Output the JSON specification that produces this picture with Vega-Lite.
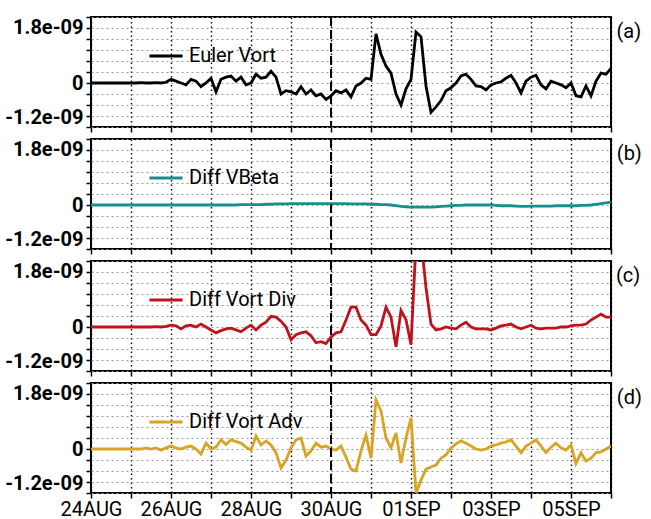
{
"$schema": "https://vega.github.io/schema/vega-lite/v6.json",
"padding": {"left": 0, "top": 15, "right": 0, "bottom": 0},
"background": "white",
"datasets": {
"ts": [
{"t":"2017-08-24T00:00","a":0,"b":0,"c":0,"d":0},
{"t":"2017-08-24T03:00","a":0,"b":0,"c":0,"d":0},
{"t":"2017-08-24T06:00","a":0,"b":0,"c":0,"d":0},
{"t":"2017-08-24T09:00","a":0,"b":0,"c":0,"d":0},
{"t":"2017-08-24T12:00","a":0,"b":0,"c":0,"d":0},
{"t":"2017-08-24T15:00","a":0,"b":0,"c":0,"d":0},
{"t":"2017-08-24T18:00","a":0,"b":0,"c":0,"d":0},
{"t":"2017-08-24T21:00","a":0,"b":0,"c":0,"d":0},
{"t":"2017-08-25T00:00","a":0,"b":0,"c":0,"d":0},
{"t":"2017-08-25T03:00","a":0,"b":0,"c":0,"d":0},
{"t":"2017-08-25T06:00","a":0.01e-9,"b":0,"c":0,"d":0},
{"t":"2017-08-25T09:00","a":0,"b":0,"c":0,"d":0.03e-9},
{"t":"2017-08-25T12:00","a":0,"b":0,"c":0,"d":0},
{"t":"2017-08-25T15:00","a":0.01e-9,"b":0,"c":0.01e-9,"d":0.03e-9},
{"t":"2017-08-25T18:00","a":0,"b":0,"c":0,"d":-0.03e-9},
{"t":"2017-08-25T21:00","a":0.02e-9,"b":0,"c":0.02e-9,"d":0.03e-9},
{"t":"2017-08-26T00:00","a":0.1e-9,"b":0,"c":0.05e-9,"d":0.08e-9},
{"t":"2017-08-26T03:00","a":0.05e-9,"b":0,"c":0.03e-9,"d":0.03e-9},
{"t":"2017-08-26T06:00","a":0,"b":0,"c":-0.05e-9,"d":0},
{"t":"2017-08-26T09:00","a":-0.05e-9,"b":0,"c":0.03e-9,"d":0.05e-9},
{"t":"2017-08-26T12:00","a":0.1e-9,"b":0,"c":0.05e-9,"d":0.08e-9},
{"t":"2017-08-26T15:00","a":0.05e-9,"b":0,"c":0,"d":0},
{"t":"2017-08-26T18:00","a":-0.1e-9,"b":0,"c":0.08e-9,"d":-0.14e-9},
{"t":"2017-08-26T21:00","a":0,"b":0,"c":0,"d":0.16e-9},
{"t":"2017-08-27T00:00","a":0.13e-9,"b":0,"c":-0.08e-9,"d":0},
{"t":"2017-08-27T03:00","a":-0.24e-9,"b":0,"c":-0.16e-9,"d":0.05e-9},
{"t":"2017-08-27T06:00","a":0.1e-9,"b":0,"c":-0.1e-9,"d":0.25e-9},
{"t":"2017-08-27T09:00","a":0.16e-9,"b":0,"c":-0.05e-9,"d":0.12e-9},
{"t":"2017-08-27T12:00","a":0.19e-9,"b":0,"c":-0.03e-9,"d":0.25e-9},
{"t":"2017-08-27T15:00","a":0.05e-9,"b":0,"c":-0.08e-9,"d":0.2e-9},
{"t":"2017-08-27T18:00","a":0.16e-9,"b":0.01e-9,"c":-0.13e-9,"d":0.16e-9},
{"t":"2017-08-27T21:00","a":-0.05e-9,"b":0.01e-9,"c":-0.03e-9,"d":0.05e-9},
{"t":"2017-08-28T00:00","a":0,"b":0.01e-9,"c":0.05e-9,"d":-0.03e-9},
{"t":"2017-08-28T03:00","a":0.24e-9,"b":0.01e-9,"c":-0.08e-9,"d":0.35e-9},
{"t":"2017-08-28T06:00","a":0.13e-9,"b":0.01e-9,"c":0.05e-9,"d":0.11e-9},
{"t":"2017-08-28T09:00","a":0.16e-9,"b":0.02e-9,"c":0.13e-9,"d":0.22e-9},
{"t":"2017-08-28T12:00","a":0.32e-9,"b":0.02e-9,"c":0.29e-9,"d":0.11e-9},
{"t":"2017-08-28T15:00","a":0.16e-9,"b":0.03e-9,"c":0.27e-9,"d":-0.1e-9},
{"t":"2017-08-28T18:00","a":-0.3e-9,"b":0.03e-9,"c":0.16e-9,"d":-0.52e-9},
{"t":"2017-08-28T21:00","a":-0.21e-9,"b":0.03e-9,"c":0,"d":-0.3e-9},
{"t":"2017-08-29T00:00","a":-0.24e-9,"b":0.04e-9,"c":-0.35e-9,"d":0.03e-9},
{"t":"2017-08-29T03:00","a":-0.3e-9,"b":0.04e-9,"c":-0.21e-9,"d":0.25e-9},
{"t":"2017-08-29T06:00","a":-0.1e-9,"b":0.04e-9,"c":-0.16e-9,"d":0.3e-9},
{"t":"2017-08-29T09:00","a":-0.3e-9,"b":0.04e-9,"c":-0.13e-9,"d":-0.19e-9},
{"t":"2017-08-29T12:00","a":-0.19e-9,"b":0.04e-9,"c":-0.24e-9,"d":-0.05e-9},
{"t":"2017-08-29T15:00","a":-0.35e-9,"b":0.04e-9,"c":-0.43e-9,"d":0.16e-9},
{"t":"2017-08-29T18:00","a":-0.3e-9,"b":0.04e-9,"c":-0.4e-9,"d":0.05e-9},
{"t":"2017-08-29T21:00","a":-0.45e-9,"b":0.04e-9,"c":-0.45e-9,"d":0.08e-9},
{"t":"2017-08-30T00:00","a":-0.35e-9,"b":0.04e-9,"c":-0.27e-9,"d":0},
{"t":"2017-08-30T03:00","a":-0.21e-9,"b":0.04e-9,"c":-0.16e-9,"d":-0.03e-9},
{"t":"2017-08-30T06:00","a":-0.27e-9,"b":0.04e-9,"c":-0.13e-9,"d":0.08e-9},
{"t":"2017-08-30T09:00","a":-0.19e-9,"b":0.04e-9,"c":0.19e-9,"d":-0.22e-9},
{"t":"2017-08-30T12:00","a":-0.38e-9,"b":0.03e-9,"c":0.54e-9,"d":-0.55e-9},
{"t":"2017-08-30T15:00","a":-0.08e-9,"b":0.03e-9,"c":0.54e-9,"d":-0.6e-9},
{"t":"2017-08-30T18:00","a":0,"b":0.03e-9,"c":0.19e-9,"d":-0.05e-9},
{"t":"2017-08-30T21:00","a":0.13e-9,"b":0.03e-9,"c":0.05e-9,"d":0.38e-9},
{"t":"2017-08-31T00:00","a":0.1e-9,"b":0.02e-9,"c":-0.21e-9,"d":-0.25e-9},
{"t":"2017-08-31T03:00","a":1.34e-9,"b":0.02e-9,"c":-0.21e-9,"d":1.34e-9},
{"t":"2017-08-31T06:00","a":0.78e-9,"b":0.01e-9,"c":0.03e-9,"d":1.04e-9},
{"t":"2017-08-31T09:00","a":0.46e-9,"b":0.01e-9,"c":0.54e-9,"d":0.3e-9},
{"t":"2017-08-31T12:00","a":0.27e-9,"b":0,"c":0.27e-9,"d":0.03e-9},
{"t":"2017-08-31T15:00","a":-0.3e-9,"b":-0.02e-9,"c":-0.54e-9,"d":0.44e-9},
{"t":"2017-08-31T18:00","a":-0.6e-9,"b":-0.04e-9,"c":0.45e-9,"d":-0.38e-9},
{"t":"2017-08-31T21:00","a":-0.16e-9,"b":-0.05e-9,"c":0.2e-9,"d":0.3e-9},
{"t":"2017-09-01T00:00","a":0.1e-9,"b":-0.06e-9,"c":-0.48e-9,"d":0.85e-9},
{"t":"2017-09-01T03:00","a":1.39e-9,"b":-0.06e-9,"c":2.3e-9,"d":-1.2e-9},
{"t":"2017-09-01T06:00","a":1.26e-9,"b":-0.06e-9,"c":2.4e-9,"d":-0.85e-9},
{"t":"2017-09-01T09:00","a":-0.08e-9,"b":-0.06e-9,"c":1.07e-9,"d":-0.55e-9},
{"t":"2017-09-01T12:00","a":-0.8e-9,"b":-0.06e-9,"c":0.08e-9,"d":-0.49e-9},
{"t":"2017-09-01T15:00","a":-0.65e-9,"b":-0.05e-9,"c":-0.08e-9,"d":-0.44e-9},
{"t":"2017-09-01T18:00","a":-0.48e-9,"b":-0.04e-9,"c":-0.05e-9,"d":-0.25e-9},
{"t":"2017-09-01T21:00","a":-0.21e-9,"b":-0.03e-9,"c":0,"d":-0.16e-9},
{"t":"2017-09-02T00:00","a":-0.13e-9,"b":-0.02e-9,"c":-0.03e-9,"d":0.03e-9},
{"t":"2017-09-02T03:00","a":0,"b":-0.01e-9,"c":-0.05e-9,"d":0.14e-9},
{"t":"2017-09-02T06:00","a":0.19e-9,"b":-0.01e-9,"c":0.05e-9,"d":0.22e-9},
{"t":"2017-09-02T09:00","a":0.24e-9,"b":0,"c":0.13e-9,"d":0.16e-9},
{"t":"2017-09-02T12:00","a":0.1e-9,"b":0,"c":0,"d":0.08e-9},
{"t":"2017-09-02T15:00","a":-0.08e-9,"b":0,"c":-0.05e-9,"d":0},
{"t":"2017-09-02T18:00","a":-0.1e-9,"b":0,"c":-0.05e-9,"d":-0.03e-9},
{"t":"2017-09-02T21:00","a":-0.19e-9,"b":0,"c":-0.05e-9,"d":0},
{"t":"2017-09-03T00:00","a":-0.05e-9,"b":0,"c":-0.08e-9,"d":0.08e-9},
{"t":"2017-09-03T03:00","a":0,"b":-0.01e-9,"c":-0.03e-9,"d":0.11e-9},
{"t":"2017-09-03T06:00","a":0.03e-9,"b":-0.02e-9,"c":0.03e-9,"d":0.16e-9},
{"t":"2017-09-03T09:00","a":0.13e-9,"b":-0.02e-9,"c":0.05e-9,"d":0.19e-9},
{"t":"2017-09-03T12:00","a":0.21e-9,"b":-0.02e-9,"c":0.08e-9,"d":0.25e-9},
{"t":"2017-09-03T15:00","a":0,"b":-0.03e-9,"c":0,"d":0.08e-9},
{"t":"2017-09-03T18:00","a":-0.27e-9,"b":-0.04e-9,"c":-0.05e-9,"d":-0.1e-9},
{"t":"2017-09-03T21:00","a":0.05e-9,"b":-0.04e-9,"c":0,"d":0.08e-9},
{"t":"2017-09-04T00:00","a":0.16e-9,"b":-0.03e-9,"c":0.05e-9,"d":0.16e-9},
{"t":"2017-09-04T03:00","a":0.21e-9,"b":-0.03e-9,"c":-0.03e-9,"d":0.25e-9},
{"t":"2017-09-04T06:00","a":-0.05e-9,"b":-0.03e-9,"c":-0.05e-9,"d":0.08e-9},
{"t":"2017-09-04T09:00","a":-0.16e-9,"b":-0.03e-9,"c":-0.03e-9,"d":-0.1e-9},
{"t":"2017-09-04T12:00","a":0.05e-9,"b":-0.03e-9,"c":-0.03e-9,"d":0.05e-9},
{"t":"2017-09-04T15:00","a":0,"b":-0.02e-9,"c":-0.03e-9,"d":0.16e-9},
{"t":"2017-09-04T18:00","a":-0.05e-9,"b":-0.02e-9,"c":0,"d":0.03e-9},
{"t":"2017-09-04T21:00","a":-0.13e-9,"b":-0.02e-9,"c":0,"d":-0.03e-9},
{"t":"2017-09-05T00:00","a":0,"b":-0.02e-9,"c":0.03e-9,"d":0.11e-9},
{"t":"2017-09-05T03:00","a":-0.35e-9,"b":-0.02e-9,"c":0.05e-9,"d":-0.4e-9},
{"t":"2017-09-05T06:00","a":-0.38e-9,"b":-0.01e-9,"c":0.05e-9,"d":-0.1e-9},
{"t":"2017-09-05T09:00","a":-0.08e-9,"b":-0.01e-9,"c":0.08e-9,"d":-0.33e-9},
{"t":"2017-09-05T12:00","a":-0.35e-9,"b":0,"c":0.19e-9,"d":-0.25e-9},
{"t":"2017-09-05T15:00","a":0.05e-9,"b":0.02e-9,"c":0.27e-9,"d":-0.1e-9},
{"t":"2017-09-05T18:00","a":0.27e-9,"b":0.04e-9,"c":0.35e-9,"d":-0.08e-9},
{"t":"2017-09-05T21:00","a":0.24e-9,"b":0.06e-9,"c":0.27e-9,"d":0},
{"t":"2017-09-06T00:00","a":0.4e-9,"b":0.08e-9,"c":0.27e-9,"d":0.08e-9}
],
"marker": [{"t":"2017-08-30T00:00"}]
},
"data": {"name": "ts"},
"spacing": 3,
"resolve": {"scale": {"color": "independent"}, "legend": {"color": "independent"}},
"config": {
  "font": "Roboto",
  "view": {"stroke": "black", "strokeWidth": 2},
  "axis": {"domain": false, "title": null, "tickColor": "black", "tickWidth": 1.5, "tickSize": 5, "labelColor": "black", "labelFont": "Roboto"},
  "axisX": {"grid": true, "gridColor": "#000000", "gridDash": [1.5, 3], "gridWidth": 1.4, "labelOverlap": false, "labelFlush": false, "labelFontSize": 20, "labelPadding": 1},
  "axisY": {"grid": true, "gridColor": "#9a9a9a", "gridDash": [2, 3], "gridWidth": 1, "labelFontSize": 20, "labelFontWeight": "bold", "labelFlush": true, "labelPadding": 3, "minExtent": 90, "maxExtent": 90},
  "legend": {"orient": "none", "legendX": 57, "legendY": 21, "title": null, "symbolSize": 1100, "symbolStrokeWidth": 2.8, "labelFontSize": 20, "labelFont": "Roboto", "labelColor": "black", "labelOffset": 5, "padding": 0},
  "title": {"fontSize": 20, "fontWeight": "normal", "font": "Roboto", "color": "black"}
},
"vconcat": [
{
  "width": 520, "height": 110,
  "title": {"text": "(a)", "orient": "right", "anchor": "start", "angle": 0, "align": "left", "baseline": "top", "offset": 7, "dy": 6, "dx": -27},
  "layer": [
    {"mark": {"type": "line", "strokeWidth": 2.8, "clip": true},
     "encoding": {
       "x": {"field": "t", "type": "temporal", "scale": {"domain": [{"year": 2017, "month": 8, "date": 24}, {"year": 2017, "month": 9, "date": 6}], "nice": false}, "axis": {"title": null, "labels": false, "minExtent": 6, "maxExtent": 6, "tickCount": {"interval": "day", "step": 1}}},
       "y": {"field": "a", "type": "quantitative", "scale": {"domain": [-1.2e-9, 1.8e-9], "nice": false, "zero": false}, "axis": {"title": null, "values": [-1.2e-9, -0.9e-9, -0.6e-9, -0.3e-9, 0, 0.3e-9, 0.6e-9, 0.9e-9, 1.2e-9, 1.5e-9, 1.8e-9], "labelExpr": "datum.value === 0 ? '0' : (abs(datum.value - 1.8e-9) < 1e-12 ? '1.8e-09' : (abs(datum.value + 1.2e-9) < 1e-12 ? '-1.2e-09' : ''))"}},
       "color": {"datum": "Euler Vort", "type": "nominal", "scale": {"range": ["#000000"]}}
     }},
    {"data": {"name": "marker"}, "mark": {"type": "rule", "strokeDash": [9, 4], "strokeWidth": 2, "color": "black"},
     "encoding": {"x": {"field": "t", "type": "temporal"}}}
  ]
},
{
  "width": 520, "height": 110,
  "title": {"text": "(b)", "orient": "right", "anchor": "start", "angle": 0, "align": "left", "baseline": "top", "offset": 7, "dy": 6, "dx": -27},
  "layer": [
    {"mark": {"type": "line", "strokeWidth": 2.8, "clip": true},
     "encoding": {
       "x": {"field": "t", "type": "temporal", "scale": {"domain": [{"year": 2017, "month": 8, "date": 24}, {"year": 2017, "month": 9, "date": 6}], "nice": false}, "axis": {"title": null, "labels": false, "minExtent": 6, "maxExtent": 6, "tickCount": {"interval": "day", "step": 1}}},
       "y": {"field": "b", "type": "quantitative", "scale": {"domain": [-1.2e-9, 1.8e-9], "nice": false, "zero": false}, "axis": {"title": null, "values": [-1.2e-9, -0.9e-9, -0.6e-9, -0.3e-9, 0, 0.3e-9, 0.6e-9, 0.9e-9, 1.2e-9, 1.5e-9, 1.8e-9], "labelExpr": "datum.value === 0 ? '0' : (abs(datum.value - 1.8e-9) < 1e-12 ? '1.8e-09' : (abs(datum.value + 1.2e-9) < 1e-12 ? '-1.2e-09' : ''))"}},
       "color": {"datum": "Diff VBeta", "type": "nominal", "scale": {"range": ["#1a8e8e"]}}
     }},
    {"data": {"name": "marker"}, "mark": {"type": "rule", "strokeDash": [9, 4], "strokeWidth": 2, "color": "black"},
     "encoding": {"x": {"field": "t", "type": "temporal"}}}
  ]
},
{
  "width": 520, "height": 110,
  "title": {"text": "(c)", "orient": "right", "anchor": "start", "angle": 0, "align": "left", "baseline": "top", "offset": 7, "dy": 6, "dx": -27},
  "layer": [
    {"mark": {"type": "line", "strokeWidth": 2.8, "clip": true},
     "encoding": {
       "x": {"field": "t", "type": "temporal", "scale": {"domain": [{"year": 2017, "month": 8, "date": 24}, {"year": 2017, "month": 9, "date": 6}], "nice": false}, "axis": {"title": null, "labels": false, "minExtent": 6, "maxExtent": 6, "tickCount": {"interval": "day", "step": 1}}},
       "y": {"field": "c", "type": "quantitative", "scale": {"domain": [-1.2e-9, 1.8e-9], "nice": false, "zero": false}, "axis": {"title": null, "values": [-1.2e-9, -0.9e-9, -0.6e-9, -0.3e-9, 0, 0.3e-9, 0.6e-9, 0.9e-9, 1.2e-9, 1.5e-9, 1.8e-9], "labelExpr": "datum.value === 0 ? '0' : (abs(datum.value - 1.8e-9) < 1e-12 ? '1.8e-09' : (abs(datum.value + 1.2e-9) < 1e-12 ? '-1.2e-09' : ''))"}},
       "color": {"datum": "Diff Vort Div", "type": "nominal", "scale": {"range": ["#c0121c"]}}
     }},
    {"data": {"name": "marker"}, "mark": {"type": "rule", "strokeDash": [9, 4], "strokeWidth": 2, "color": "black"},
     "encoding": {"x": {"field": "t", "type": "temporal"}}}
  ]
},
{
  "width": 520, "height": 110,
  "title": {"text": "(d)", "orient": "right", "anchor": "start", "angle": 0, "align": "left", "baseline": "top", "offset": 7, "dy": 6, "dx": -27},
  "layer": [
    {"mark": {"type": "line", "strokeWidth": 2.8, "clip": true},
     "encoding": {
       "x": {"field": "t", "type": "temporal", "scale": {"domain": [{"year": 2017, "month": 8, "date": 24}, {"year": 2017, "month": 9, "date": 6}], "nice": false}, "axis": {"title": null, "tickCount": {"interval": "day", "step": 1}, "labelExpr": "round((datum.value - datetime(2017, 7, 24)) / 864e5) % 2 === 0 ? upper(timeFormat(datum.value, '%d%b')) : ''"}},
       "y": {"field": "d", "type": "quantitative", "scale": {"domain": [-1.2e-9, 1.8e-9], "nice": false, "zero": false}, "axis": {"title": null, "values": [-1.2e-9, -0.9e-9, -0.6e-9, -0.3e-9, 0, 0.3e-9, 0.6e-9, 0.9e-9, 1.2e-9, 1.5e-9, 1.8e-9], "labelExpr": "datum.value === 0 ? '0' : (abs(datum.value - 1.8e-9) < 1e-12 ? '1.8e-09' : (abs(datum.value + 1.2e-9) < 1e-12 ? '-1.2e-09' : ''))"}},
       "color": {"datum": "Diff Vort Adv", "type": "nominal", "scale": {"range": ["#d9a323"]}}
     }},
    {"data": {"name": "marker"}, "mark": {"type": "rule", "strokeDash": [9, 4], "strokeWidth": 2, "color": "black"},
     "encoding": {"x": {"field": "t", "type": "temporal"}}}
  ]
}
]
}
